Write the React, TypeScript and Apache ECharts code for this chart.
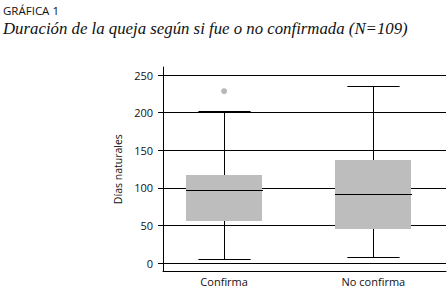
import React, { useEffect, useRef } from "react";
import * as echarts from "echarts";

const categories = ["Confirma", "No confirma"];
const lowerWhisker = [6, 8];
const q1 = [56, 46];
const median = [97, 92];
const q3 = [117, 137];
const upperWhisker = [202, 235];
const outliers: [string, number][] = [["Confirma", 228]];

const titleText = "GRÁFICA 1";
const subtitleText = "Duración de la queja según si fue o no confirmada (N=109)";
const yName = "Días naturales";

export default function App() {
  const ref = useRef<HTMLDivElement>(null);
  useEffect(() => {
    if (!ref.current) return;
    const chart = echarts.init(ref.current, undefined, { renderer: "svg" });
    const labelFont = { color: "#111", fontSize: 11, fontFamily: "Open Sans" };
    const boxData = categories.map((_, i) => [
      i, lowerWhisker[i], q1[i], median[i], q3[i], upperWhisker[i],
    ]);
    chart.setOption({
      animation: false,
      backgroundColor: "#fff",
      graphic: [
        {
          type: "text",
          left: 3,
          top: 4,
          style: { text: titleText, fontSize: 11.5, fontFamily: "Open Sans", fill: "#111" },
        },
        {
          type: "text",
          left: 3,
          top: 20,
          style: {
            text: subtitleText,
            fontSize: 16.8,
            fontStyle: "italic",
            fontFamily: "Liberation Serif",
            fill: "#111",
          },
        },
      ],
      grid: [
        { left: 163, right: 2, top: 75, height: 188.3 },
        { left: 163, right: 2, top: 67, height: 204 },
        { left: 149.5, width: 310, top: 67, height: 204 },
      ],
      xAxis: [
        { gridIndex: 0, type: "value", show: false, min: 0, max: 1 },
        {
          gridIndex: 1,
          type: "value",
          min: 0,
          max: 1,
          axisLine: { show: true, onZero: false, lineStyle: { color: "#000", width: 1 } },
          axisTick: { show: false },
          axisLabel: { show: false },
          splitLine: { show: false },
        },
        {
          gridIndex: 2,
          type: "category",
          data: categories,
          axisLine: { show: false },
          axisTick: { show: false },
          axisLabel: { margin: 5, ...labelFont },
          splitLine: { show: false },
        },
      ],
      yAxis: [
        {
          gridIndex: 0,
          type: "value",
          min: 0,
          max: 250,
          interval: 50,
          axisLine: { show: false },
          axisTick: { show: true, length: 5, lineStyle: { color: "#000" } },
          axisLabel: { margin: 10, ...labelFont },
          splitLine: { show: true, lineStyle: { color: "#000", width: 1 } },
          name: yName,
          nameLocation: "middle",
          nameGap: 40,
          nameTextStyle: { color: "#111", fontSize: 10.5, fontFamily: "Open Sans" },
        },
        {
          gridIndex: 1,
          type: "value",
          min: -10,
          max: 260,
          axisLine: { show: true, onZero: false, lineStyle: { color: "#000", width: 1 } },
          axisTick: { show: false },
          axisLabel: { show: false },
          splitLine: { show: false },
        },
        { gridIndex: 2, type: "value", min: -10, max: 260, show: false },
      ],
      series: [
        {
          type: "custom",
          xAxisIndex: 2,
          yAxisIndex: 2,
          data: boxData,
          silent: true,
          z: 3,
          encode: { x: 0, y: [1, 2, 3, 4, 5] },
          renderItem: (params: any, api: any) => {
            const x = api.value(0);
            const band = api.size([1, 0])[0];
            const boxHalf = band * 0.255;
            const capHalf = band * 0.175;
            const pLow = api.coord([x, api.value(1)]);
            const pQ1 = api.coord([x, api.value(2)]);
            const pMed = api.coord([x, api.value(3)]);
            const pQ3 = api.coord([x, api.value(4)]);
            const pHigh = api.coord([x, api.value(5)]);
            const cx = Math.round(pLow[0]) + 0.5;
            const line = (x1: number, y1: number, x2: number, y2: number) => ({
              type: "line",
              shape: { x1, y1, x2, y2 },
              style: { stroke: "#000", lineWidth: 1 },
            });
            const ry = (v: number) => Math.round(v) + 0.5;
            return {
              type: "group",
              children: [
                line(cx, ry(pLow[1]), cx, ry(pHigh[1])),
                line(cx - capHalf, ry(pLow[1]), cx + capHalf, ry(pLow[1])),
                line(cx - capHalf, ry(pHigh[1]), cx + capHalf, ry(pHigh[1])),
                {
                  type: "rect",
                  shape: {
                    x: Math.round(cx - boxHalf),
                    y: Math.round(pQ3[1]),
                    width: Math.round(boxHalf * 2),
                    height: Math.round(pQ1[1]) - Math.round(pQ3[1]),
                  },
                  style: { fill: "#bdbdbd" },
                },
                line(Math.round(cx - boxHalf), ry(pMed[1]), Math.round(cx + boxHalf), ry(pMed[1])),
              ],
            };
          },
        },
        {
          type: "scatter",
          xAxisIndex: 2,
          yAxisIndex: 2,
          data: outliers,
          symbol: "circle",
          symbolSize: 6,
          silent: true,
          z: 5,
          itemStyle: { color: "#a6a6a6" },
        },
      ],
    });
    return () => chart.dispose();
  }, []);
  return (
    <div
      ref={ref}
      style={{ position: "fixed", left: 0, top: 0, width: 448, height: 297, background: "#fff" }}
    />
  );
}
